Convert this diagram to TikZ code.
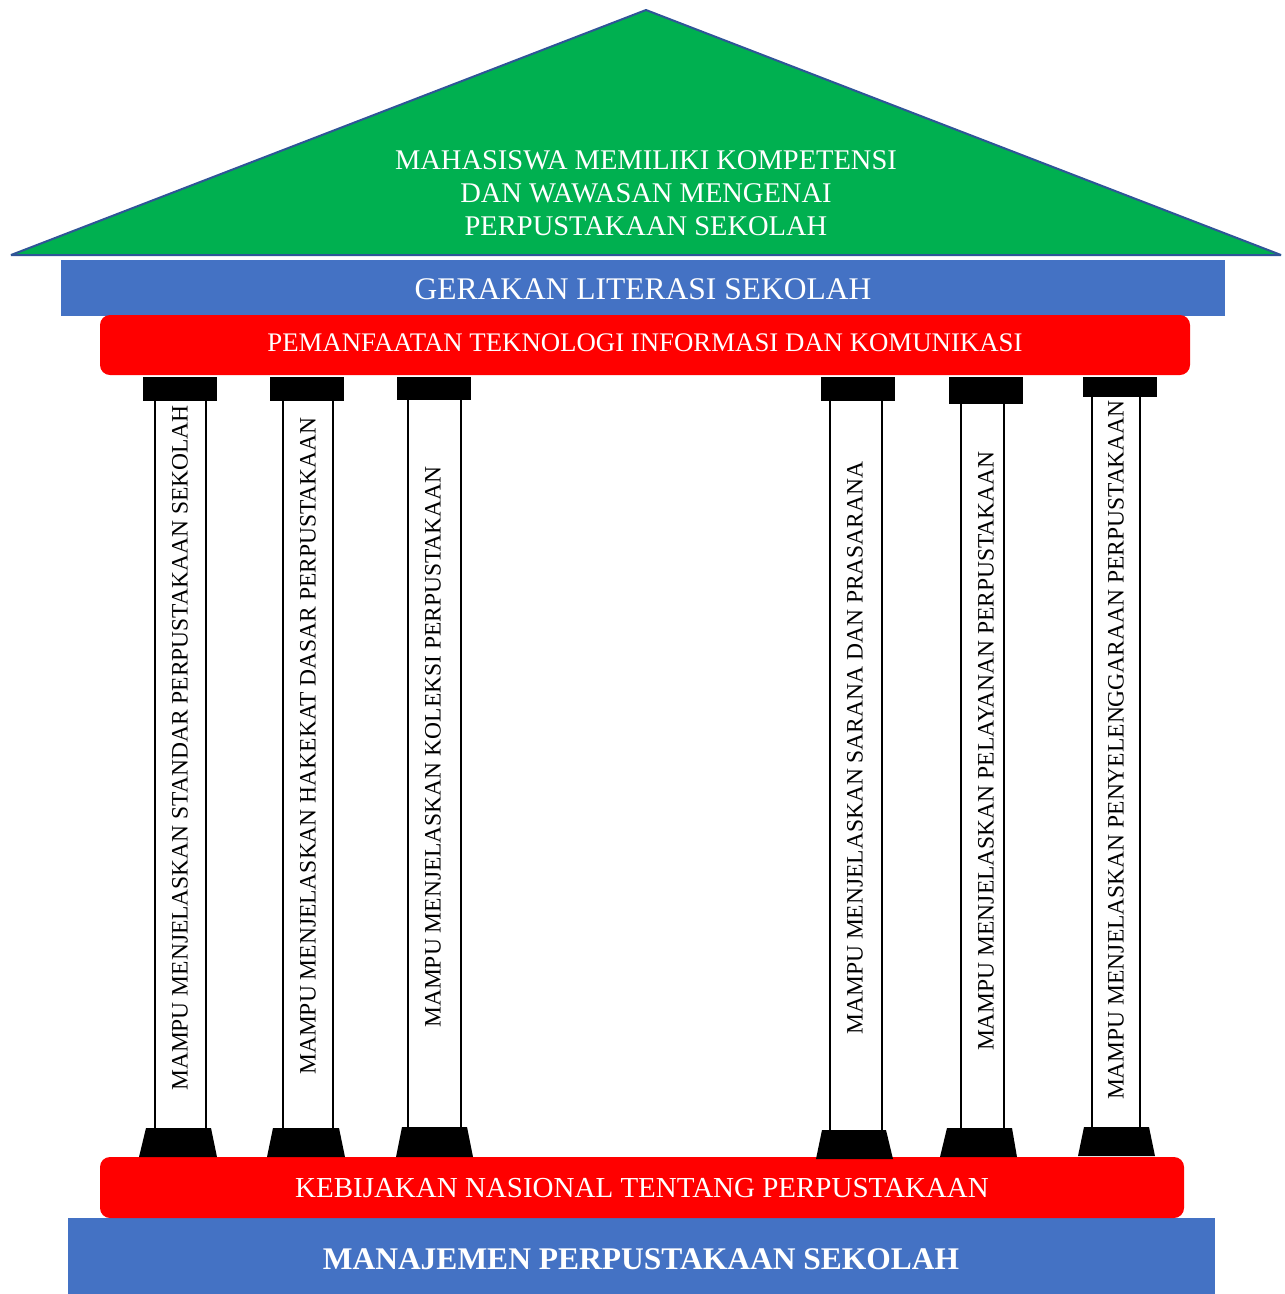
\documentclass[tikz,border=0pt]{standalone}
\usepackage{fontspec}
\setmainfont{Liberation Serif}
\definecolor{roofgreen}{HTML}{00B050}
\definecolor{roofline}{HTML}{2F5597}
\definecolor{barblue}{HTML}{4472C4}
\definecolor{barred}{HTML}{FF0000}
\tikzset{
  bar/.style={inner sep=0pt, outer sep=0pt, text=white, align=center},
  bluebar/.style={bar, fill=barblue},
  capital/.style={fill=black},
  shaftline/.style={draw=black, line width=2.5pt},
  pillarbase/.style={fill=black},
  pillartext/.style={rotate=90, inner sep=0pt, font=\fontsize{23.5}{26}\selectfont},
}
\begin{document}
\begin{tikzpicture}[x=1pt,y=-1pt]
\useasboundingbox (0,0) rectangle (1285,1294);
% roof
\filldraw[fill=roofgreen, draw=roofline, line width=2pt, line join=bevel]
  (11,255) -- (646,10) -- (1281,255) -- cycle;
\node[inner sep=0pt, text=white, align=center, font=\fontsize{28.5}{33}\selectfont] (roof) at (646,193)
  {MAHASISWA MEMILIKI KOMPETENSI\\DAN WAWASAN MENGENAI\\PERPUSTAKAAN SEKOLAH};
% top bars
\node[bluebar, minimum width=1164pt, minimum height=56pt] (gls) at (643,287.5) {};
\node[text=white, inner sep=0pt, font=\fontsize{31.5}{34}\selectfont] (glstext) at (643,289) {GERAKAN LITERASI SEKOLAH};
\fill[barred, rounded corners=10pt] (100,315) rectangle (1190,375);
\node[text=white, inner sep=0pt, font=\fontsize{26.8}{30}\selectfont] (tik) at (645,343) {PEMANFAATAN TEKNOLOGI INFORMASI DAN KOMUNIKASI};
% bottom bars
\fill[barblue] (68,1218) rectangle (1215,1294);
\node[text=white, inner sep=0pt, font=\bfseries\fontsize{31.5}{34}\selectfont] (mps) at (641,1259) {MANAJEMEN PERPUSTAKAAN SEKOLAH};
\fill[barred, rounded corners=10pt] (100,1157) rectangle (1184,1218);
\node[text=white, inner sep=0pt, font=\fontsize{29}{32}\selectfont] (knp) at (642,1188) {KEBIJAKAN NASIONAL TENTANG PERPUSTAKAAN};
% pillar 1
\draw[shaftline] (155,400) -- (155,1130) (206,400) -- (206,1130);
\fill[capital] (143,377) rectangle (217,401);
\fill[pillarbase] (146,1128) -- (211,1128) -- (217,1157) -- (139,1157) -- cycle;
\node[pillartext] (p1) at (180,748) {MAMPU MENJELASKAN STANDAR PERPUSTAKAAN SEKOLAH};
% pillar 2
\draw[shaftline] (283,400) -- (283,1130) (333,400) -- (333,1130);
\fill[capital] (270,377) rectangle (344,401);
\fill[pillarbase] (273,1128) -- (339,1128) -- (345,1157) -- (267,1157) -- cycle;
\node[pillartext] (p2) at (308,746) {MAMPU MENJELASKAN HAKEKAT DASAR PERPUSTAKAAN};
% pillar 3
\draw[shaftline] (408,399) -- (408,1129) (461,399) -- (461,1129);
\fill[capital] (397,377) rectangle (471,400);
\fill[pillarbase] (402,1127) -- (467,1127) -- (473,1157) -- (396,1157) -- cycle;
\node[pillartext] (p3) at (433,747) {MAMPU MENJELASKAN KOLEKSI PERPUSTAKAAN};
% pillar 4
\draw[shaftline] (830,400) -- (830,1131) (882,400) -- (882,1131);
\fill[capital] (821,377) rectangle (895,401);
\fill[pillarbase] (822,1130) -- (886,1130) -- (893,1159) -- (816,1159) -- cycle;
\node[pillartext] (p4) at (855,748) {MAMPU MENJELASKAN SARANA DAN PRASARANA};
% pillar 5
\draw[shaftline] (961,403) -- (961,1129) (1004,403) -- (1004,1129);
\fill[capital] (949,377) rectangle (1023,404);
\fill[pillarbase] (947,1128) -- (1012,1128) -- (1017,1157) -- (940,1157) -- cycle;
\node[pillartext] (p5) at (986,751) {MAMPU MENJELASKAN PELAYANAN PERPUSTAKAAN};
% pillar 6
\draw[shaftline] (1092,396) -- (1092,1128) (1140,396) -- (1140,1128);
\fill[capital] (1083,377) rectangle (1157,397);
\fill[pillarbase] (1084,1127) -- (1149,1127) -- (1155,1156) -- (1078,1156) -- cycle;
\node[pillartext] (p6) at (1116,750) {MAMPU MENJELASKAN PENYELENGGARAAN PERPUSTAKAAN};
\end{tikzpicture}
\end{document}
